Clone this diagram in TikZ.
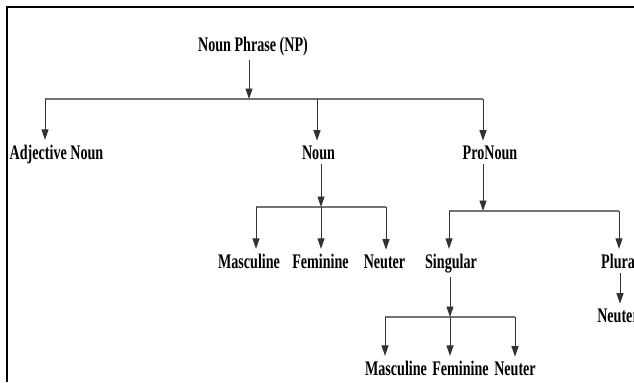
\documentclass[tikz,border=0pt]{standalone}
\usepackage{fontspec}
\setmainfont{Liberation Serif}[FakeStretch=0.68]
\usetikzlibrary{arrows.meta}

\begin{document}
\begin{tikzpicture}[x=0.02cm,y=-0.02cm,
  lbl/.style={font=\bfseries\fontsize{11.8}{13}\selectfont,inner xsep=0pt,inner ysep=2.5pt,anchor=base},
  ar/.style={-{Triangle[length=0.21cm,width=0.14cm]},line width=0.55pt,draw=black!80},
  br/.style={line width=1.1pt,draw=black!55}]
  \useasboundingbox (0,0) rectangle (634,382);
  \clip (0,0) rectangle (634,382);
  \draw[line width=1.7pt] (7,382) -- (7,7) -- (640,7);
  % labels
  \node[lbl] (np) at (253,51) {Noun Phrase (NP)};
  \node[lbl] (adj) at (56.5,159) {Adjective Noun};
  \node[lbl] (noun) at (318.5,159) {Noun};
  \node[lbl] (pron) at (490,159) {ProNoun};
  \node[lbl] (masc) at (249,268) {Masculine};
  \node[lbl] (fem) at (320.5,268) {Feminine};
  \node[lbl] (neut) at (384.5,268) {Neuter};
  \node[lbl] (sing) at (451,268) {Singular};
  \node[lbl] (plur) at (620,268) {Plural};
  \node[lbl] (pneut) at (618,322) {Neuter};
  \node[lbl] (smasc) at (396,375) {Masculine};
  \node[lbl] (sfem) at (460.5,375) {Feminine};
  \node[lbl] (sneut) at (515,375) {Neuter};
  % bars
  \coordinate (b0l) at (45,99);  \coordinate (b0a) at (249,99); \coordinate (b0m) at (317,99); \coordinate (b0r) at (483,99);
  \coordinate (b1l) at (256,207); \coordinate (b1m) at (321,207); \coordinate (b1r) at (386,207);
  \coordinate (b2l) at (449,211); \coordinate (b2m) at (483,211); \coordinate (b2r) at (619,211);
  \coordinate (b3l) at (385,317); \coordinate (b3m) at (450,317); \coordinate (b3r) at (515,317);
  \draw[br] (b0l) -- (b0r);
  \draw[br] (b1l) -- (b1r);
  \draw[br] (b2l) -- (b2r);
  \draw[br] (b3l) -- (b3r);
  % parent to bar
  \draw[ar] (b0a |- np.south) -- (b0a);
  \draw[ar] (b1m |- noun.south) -- (b1m);
  \draw[ar] (b2m |- pron.south) -- (b2m);
  \draw[ar] (b3m |- sing.south) -- (b3m);
  \draw[ar] (plur.south) -- (plur.south |- pneut.north);
  % bar to children
  \foreach \c/\n in {b0l/adj,b0m/noun,b0r/pron,b1l/masc,b1m/fem,b1r/neut,b2l/sing,b2r/plur,b3l/smasc,b3m/sfem,b3r/sneut}
    {\draw[ar] (\c) -- (\c |- \n.north);}
\end{tikzpicture}
\end{document}
